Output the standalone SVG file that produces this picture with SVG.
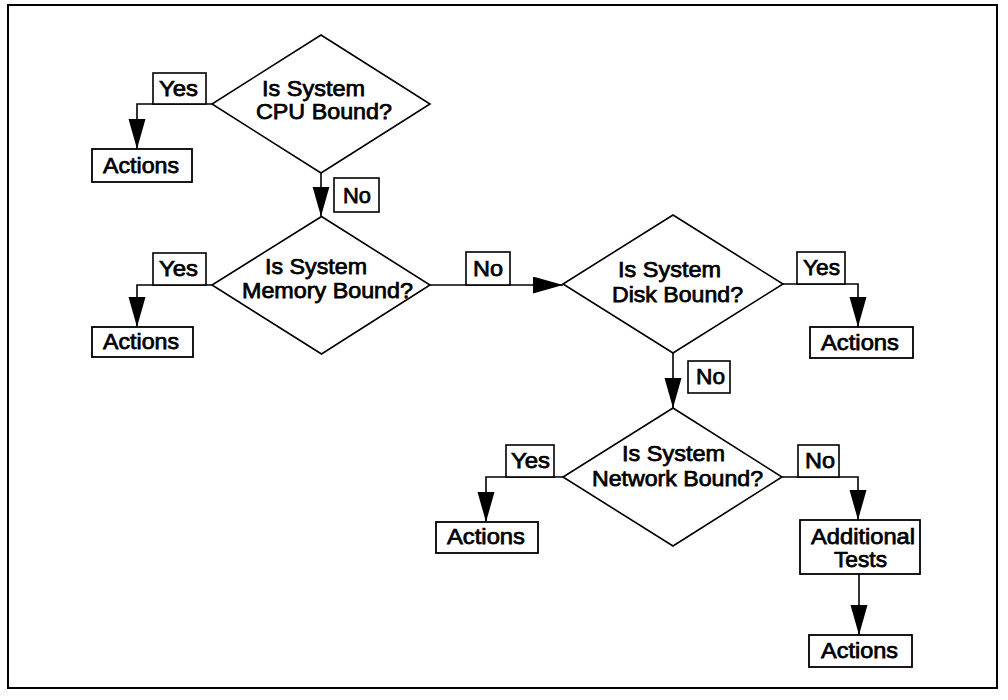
<svg xmlns="http://www.w3.org/2000/svg" width="1008" height="700" viewBox="0 0 1008 700">
  <style>
    .frame { fill: #fff; stroke: #000; stroke-width: 2; }
    .dec { fill: #fff; stroke: #000; stroke-width: 1.6; }
    .box { fill: #fff; stroke: #000; stroke-width: 1.8; }
    .lbl { fill: #fff; stroke: #000; stroke-width: 1.6; }
    .wire { fill: none; stroke: #000; stroke-width: 1.6; }
    text { font-family: "Liberation Sans", Arial, Helvetica, sans-serif; font-size: 22px; fill: #000; stroke: #000; stroke-width: 0.75; }
  </style>
  <defs>
    <marker id="head" markerUnits="userSpaceOnUse" markerWidth="31" markerHeight="18" refX="30" refY="8.5" orient="auto">
      <path d="M0,0 L30,8.5 L0,17 z" fill="#000"/>
    </marker>
  </defs>

  <rect class="frame" x="8" y="5" width="989" height="683"/>

  <!-- connectors -->
  <g id="connectors">
    <polyline class="wire" points="212,104 137,104 137,149" marker-end="url(#head)"/>
    <polyline class="wire" points="321,173 321,216.5" marker-end="url(#head)"/>
    <polyline class="wire" points="212,285 137,285 137,327" marker-end="url(#head)"/>
    <polyline class="wire" points="430,285 563,285" marker-end="url(#head)"/>
    <polyline class="wire" points="783,284 858,284 858,327" marker-end="url(#head)"/>
    <polyline class="wire" points="673,353 673,408" marker-end="url(#head)"/>
    <polyline class="wire" points="563,477 486,477 486,522" marker-end="url(#head)"/>
    <polyline class="wire" points="782,477 858,477 858,520" marker-end="url(#head)"/>
    <polyline class="wire" points="859,574 859,635" marker-end="url(#head)"/>
  </g>

  <!-- edge labels -->
  <g id="labels">
    <rect class="lbl" x="153" y="73" width="53" height="31"/>
    <text x="159" y="96" textLength="39" lengthAdjust="spacingAndGlyphs">Yes</text>
    <rect class="lbl" x="334" y="178" width="45" height="34"/>
    <text x="343" y="203" textLength="28" lengthAdjust="spacingAndGlyphs">No</text>
    <rect class="lbl" x="153" y="253" width="53" height="32"/>
    <text x="159" y="276" textLength="39" lengthAdjust="spacingAndGlyphs">Yes</text>
    <rect class="lbl" x="466" y="252" width="44" height="33"/>
    <text x="473" y="276" textLength="30" lengthAdjust="spacingAndGlyphs">No</text>
    <rect class="lbl" x="797" y="252" width="48" height="32"/>
    <text x="803" y="275" textLength="37" lengthAdjust="spacingAndGlyphs">Yes</text>
    <rect class="lbl" x="688" y="361" width="42" height="32"/>
    <text x="696" y="384" textLength="29" lengthAdjust="spacingAndGlyphs">No</text>
    <rect class="lbl" x="506" y="445" width="48" height="32"/>
    <text x="511" y="468" textLength="39" lengthAdjust="spacingAndGlyphs">Yes</text>
    <rect class="lbl" x="798" y="445" width="41" height="32"/>
    <text x="805" y="468" textLength="30" lengthAdjust="spacingAndGlyphs">No</text>
  </g>

  <!-- decisions -->
  <g id="cpu">
    <polygon class="dec" points="321,35 430,104 321,173 212,104"/>
    <text x="262" y="96" textLength="103" lengthAdjust="spacingAndGlyphs">Is System</text>
    <text x="256" y="119" textLength="136" lengthAdjust="spacingAndGlyphs">CPU Bound?</text>
  </g>
  <g id="memory">
    <polygon class="dec" points="321.5,216.5 430,285 321.5,354 212,285"/>
    <text x="265" y="274" textLength="102" lengthAdjust="spacingAndGlyphs">Is System</text>
    <text x="242" y="298" textLength="171" lengthAdjust="spacingAndGlyphs">Memory Bound?</text>
  </g>
  <g id="disk">
    <polygon class="dec" points="673,215 783,284 673,353 563,284"/>
    <text x="618" y="277" textLength="103" lengthAdjust="spacingAndGlyphs">Is System</text>
    <text x="612" y="302" textLength="131" lengthAdjust="spacingAndGlyphs">Disk Bound?</text>
  </g>
  <g id="network">
    <polygon class="dec" points="673,408 782,477 673,546 563,477"/>
    <text x="622" y="461" textLength="103" lengthAdjust="spacingAndGlyphs">Is System</text>
    <text x="592" y="486" textLength="171" lengthAdjust="spacingAndGlyphs">Network Bound?</text>
  </g>

  <!-- outcome boxes -->
  <g id="cpu-actions">
    <rect class="box" x="92" y="149" width="100" height="33"/>
    <text x="103" y="173" textLength="76" lengthAdjust="spacingAndGlyphs">Actions</text>
  </g>
  <g id="memory-actions">
    <rect class="box" x="92" y="327" width="101" height="30"/>
    <text x="103" y="349" textLength="76" lengthAdjust="spacingAndGlyphs">Actions</text>
  </g>
  <g id="disk-actions">
    <rect class="box" x="810" y="327" width="103" height="31"/>
    <text x="821" y="350" textLength="78" lengthAdjust="spacingAndGlyphs">Actions</text>
  </g>
  <g id="network-actions">
    <rect class="box" x="436" y="522" width="102" height="31"/>
    <text x="447" y="544" textLength="78" lengthAdjust="spacingAndGlyphs">Actions</text>
  </g>
  <g id="additional-tests">
    <rect class="box" x="800" y="520" width="120" height="54"/>
    <text x="811" y="544" textLength="104" lengthAdjust="spacingAndGlyphs">Additional</text>
    <text x="834" y="567" textLength="53" lengthAdjust="spacingAndGlyphs">Tests</text>
  </g>
  <g id="final-actions">
    <rect class="box" x="809" y="635" width="103" height="32"/>
    <text x="821" y="658" textLength="77" lengthAdjust="spacingAndGlyphs">Actions</text>
  </g>
</svg>
